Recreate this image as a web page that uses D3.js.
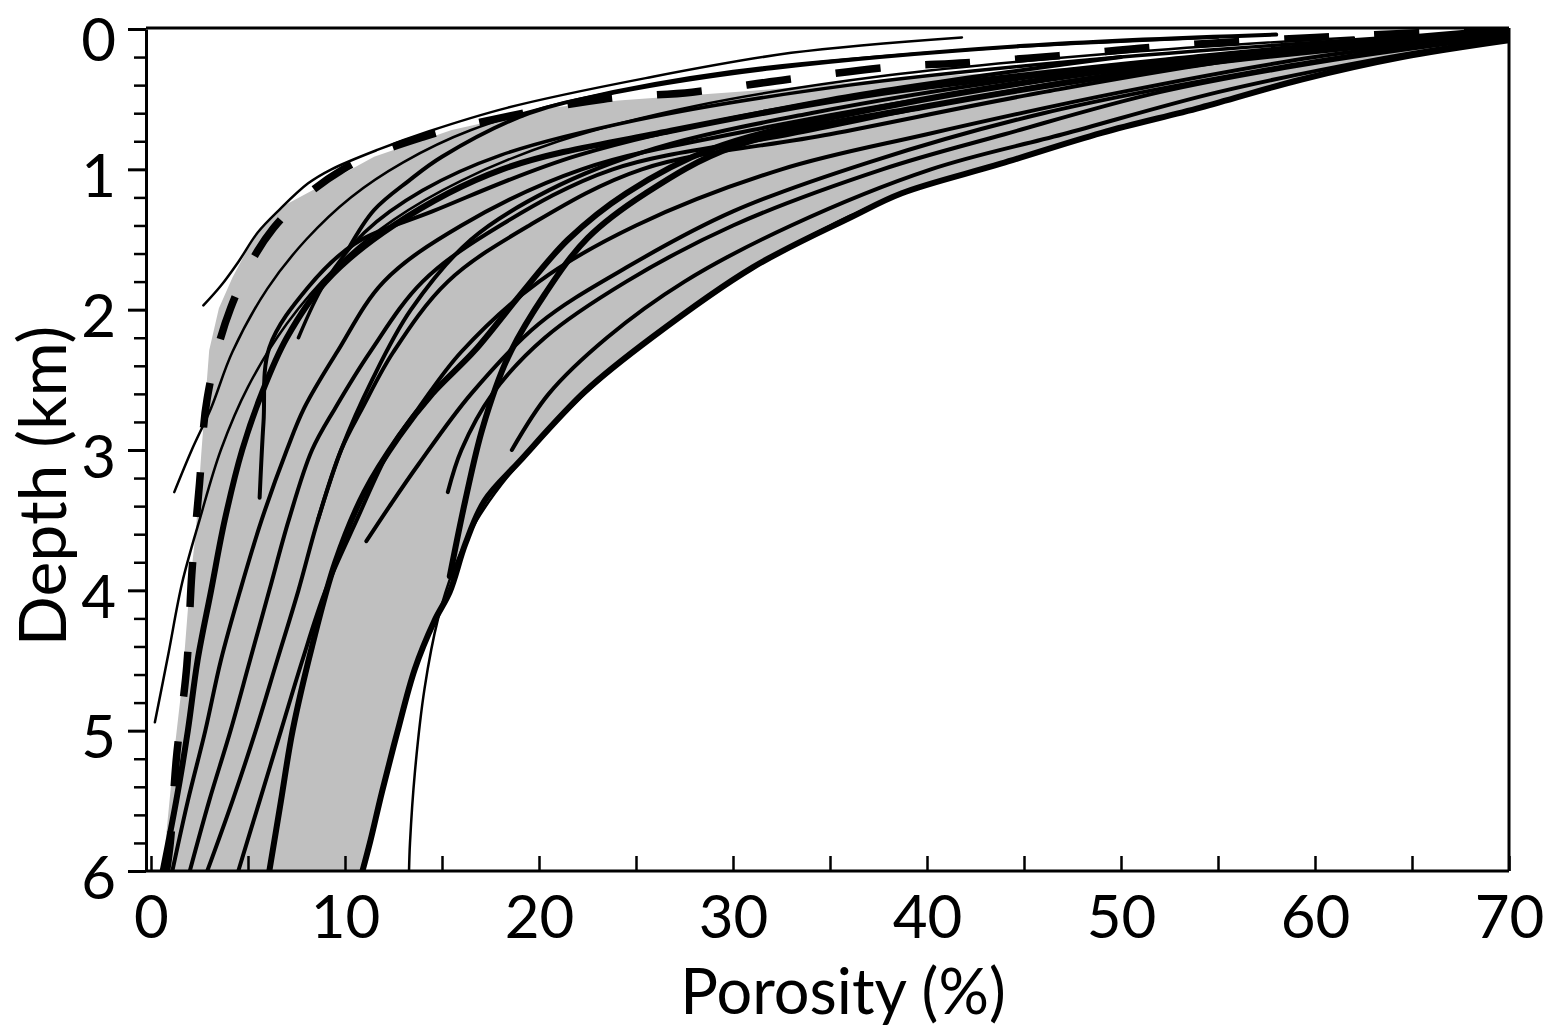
<!DOCTYPE html>
<html><head><meta charset="utf-8">
<script src="https://cdn.jsdelivr.net/npm/d3@7"></script>
<style>
body{margin:0;background:#fff;}
svg{display:block;}
text{font-family:Lato,sans-serif;fill:#000;}
</style></head><body>
<svg id="chart" width="1549" height="1029"></svg>
<script>
// ---- tick values / labels ----
const xTickValues = [0,5,10,15,20,25,30,35,40,45,50,55,60,65,70];
const xTickLabels = [0,10,20,30,40,50,60,70];
const yTickValues = [0,1,2,3,4,5,6];
const yMinorTicks = [0.2,0.4,0.6,0.8,1.2,1.4,1.6,1.8,2.2,2.4,2.6,2.8,3.2,3.4,3.6,3.8,4.2,4.4,4.6,4.8,5.2,5.4,5.6,5.8];
const xTitle = "Porosity (%)";
const yTitle = "Depth (km)";
const panelLabel = "(a)";

// ---- data: [porosity %, depth km] ----
const bandLeft = [[70,0],[64.5,0.11],[59.3,0.16],[54.1,0.21],[49,0.26],[43.8,0.31],[38.7,0.35],[31,0.44],[24.1,0.51],[20.7,0.56],[15.5,0.72],[11.5,0.91],[9,1.1],[6.7,1.27],[5.2,1.51],[4.2,1.77],[3.5,1.99],[3.0,2.29],[2.6,3.01],[2.3,3.6],[2.0,3.96],[1.6,4.67],[1.2,5.15],[0.8,5.72],[0.6,6.0]];
const curveEnvelope = [[70,0.08],[64.5,0.2],[59.3,0.36],[54.1,0.56],[49,0.74],[43.8,0.96],[38.7,1.17],[36.1,1.34],[31,1.7],[25.8,2.2],[22.4,2.58],[19,3.08],[17.2,3.36],[16.2,3.67],[15.4,4.01],[14.6,4.22],[13.6,4.56],[12.7,5.01],[11.9,5.44],[11.3,5.79],[10.9,6]];
const curveOuterThin = [[70,0.08],[64.5,0.2],[59.3,0.36],[54.1,0.56],[49,0.74],[43.8,0.96],[38.7,1.17],[31,1.7],[25.8,2.2],[22.2,2.62],[18.8,3.12],[16.8,3.5],[15.6,3.85],[14.8,4.2],[14.1,4.7],[13.6,5.3],[13.35,5.8],[13.3,6]];
const curveDashed = [[70,0],[60,0.06],[51.6,0.13],[46.8,0.19],[42,0.24],[38.2,0.27],[32.8,0.36],[27.9,0.45],[23.3,0.5],[18.5,0.62],[14,0.77],[9.9,1.0],[6.3,1.42],[4.1,1.99],[2.9,2.63],[2.5,3.24],[2.1,3.89],[1.85,4.53],[1.3,5.21],[1.0,5.79],[0.8,6.0]];
const curveL1 = [[41.8,0.06],[33,0.17],[25.5,0.35],[18.4,0.56],[14.3,0.73],[11.7,0.86],[9.3,1.0],[8.1,1.1],[6.6,1.29],[5.5,1.45],[4.5,1.66],[3.6,1.83],[2.7,1.97]];
const curveL2 = [[55,0.06],[42,0.15],[30,0.3],[22,0.5],[16.5,0.72],[13,0.95],[10.3,1.2],[8,1.5],[6,1.85],[4.2,2.3],[3.1,2.7],[2.1,3.0],[1.2,3.3]];
const curveL3 = [[62,0.06],[50,0.17],[38,0.33],[28,0.55],[21,0.8],[16,1.08],[12.5,1.36],[9.5,1.7],[7,2.1],[5,2.55],[3.6,3.0],[2.5,3.5],[1.6,3.95],[0.9,4.45],[0.2,4.94]];
const curveG1 = [[70,0.02],[57,0.3],[46,0.6],[37,0.95],[30,1.3],[24.5,1.7],[20,2.1],[16.5,2.6],[13.8,3.1],[12.3,3.4],[11.1,3.65]];
const curveG2 = [[50,0.2],[35,0.5],[22,0.9],[14.5,1.3],[10.5,1.53],[8.1,1.84],[6.1,2.27],[5.8,2.8],[5.6,3.34]];
const curveG3 = [[58,0.04],[45,0.12],[32,0.28],[24,0.45],[19.5,0.6],[15,0.91],[13.3,1.08],[11.5,1.29],[10.2,1.56]];
const curveF1 = [[70,0.02],[52,0.25],[38,0.55],[29,0.85],[24.5,1.17],[21.5,1.5],[19,1.9],[16.7,2.29],[14.5,2.6],[12.8,2.9],[11,3.3],[9.5,3.8],[8.3,4.4],[7.3,5],[6.7,5.5],[6.1,6]];
const curveX1 = [[70,0.03],[54,0.25],[40,0.55],[30,0.84],[25.5,1.17],[22.5,1.49],[20.3,1.89],[18.4,2.34],[17.1,2.84],[16.2,3.36],[15.4,3.9]];
const curveF2 = [[70,0.04],[60,0.2],[50,0.45],[40,0.75],[32.5,1.0],[25,1.4],[20,1.8],[16,2.3],[13.8,2.7],[12.3,3.0],[10.6,3.5],[9.0,4.0],[7.8,4.5],[6.7,5.0],[5.6,5.5],[4.5,6.0]];
const curveF3 = [[70,0.03],[57,0.2],[46,0.45],[35,0.75],[25.3,1.0],[19.5,1.4],[15.3,1.8],[12.5,2.3],[10.9,2.7],[9.8,3.0],[8.6,3.5],[7.6,4.0],[6.5,4.5],[5.4,5.0],[4.2,5.5],[2.9,6.0]];
const curveF4 = [[70,0.02],[56,0.2],[44,0.45],[33,0.75],[23.8,1.0],[18,1.4],[14,1.8],[11.3,2.3],[9.5,2.7],[8.3,3.0],[7.1,3.5],[6.1,4.0],[5.1,4.5],[4.1,5.0],[3.0,5.5],[2.0,6.0]];
const curveF5b = [[70,0.01],[55,0.2],[42,0.45],[31,0.72],[22.2,1.0],[16,1.4],[12,1.8],[9.6,2.3],[7.9,2.7],[7,3.0],[5.7,3.5],[4.6,4.0],[3.6,4.5],[2.8,5.0],[1.9,5.5],[1.1,6.0]];
const curveF5 = [[70,0],[54,0.2],[38,0.45],[27,0.72],[18.1,1.0],[12.5,1.4],[9,1.8],[7,2.2],[5.7,2.6],[4.7,3.0],[3.8,3.5],[3.1,4.0],[2.4,4.5],[1.9,5.0],[1.3,5.5],[0.6,6.0]];
const curveH = [[70,0.05],[61,0.22],[52,0.45],[44,0.75],[37.7,1.0],[30,1.4],[24.5,1.8],[20.3,2.2],[17.6,2.6],[16,3.0],[15.3,3.3]];
const curveK = [[70,0.06],[63,0.22],[55,0.45],[47,0.75],[40.2,1.0],[33,1.4],[27.5,1.8],[23.5,2.2],[20.5,2.6],[18.6,3.0]];
const curveM = [[65,0.05],[50,0.2],[36,0.4],[25,0.65],[18,0.9],[14,1.15],[11,1.45],[9,1.8],[7.6,2.2]];
const curveN = [[70,0],[58,0.15],[45,0.35],[34,0.6],[26,0.85],[20.5,1.15],[16.5,1.5],[13.4,2.0],[11.4,2.5],[9.8,3.0],[8.6,3.5]];

// ---- layout ----
const svg = d3.select("#chart");
const x = d3.scaleLinear().domain([0,70]).range([151,1509]);
const y = d3.scaleLinear().domain([0,6]).range([29,871]);
const axisX = 146;
const FONT = "Lato";

svg.append("defs").append("clipPath").attr("id","plotclip")
  .append("rect").attr("x",axisX).attr("y",y(0)).attr("width",x(70)-axisX).attr("height",y(6)-y(0));

const plot = svg.append("g").attr("clip-path","url(#plotclip)");

// gray band
const bandPoly = bandLeft.concat([[curveEnvelope[curveEnvelope.length-1][0],6]]).concat(curveEnvelope.slice().reverse()).concat([[70,0]]);
plot.append("path")
  .attr("d", d3.line().x(d=>x(d[0])).y(d=>y(d[1])).curve(d3.curveLinear)(bandPoly))
  .attr("fill","#c0c0c0").attr("stroke","none");

const lineGen = d3.line().x(d=>x(d[0])).y(d=>y(d[1])).curve(d3.curveCatmullRom.alpha(0.5));

const curves = [
  {d:curveOuterThin, w:2.5},
  {d:curveL1, w:2.5},{d:curveL2, w:2.5},{d:curveL3, w:2.5},
  {d:curveG1, w:4},{d:curveG2, w:4},{d:curveG3, w:4},
  {d:curveF2, w:4},{d:curveF3, w:4},{d:curveF4, w:4},{d:curveF5b, w:4},
  {d:curveH, w:4},{d:curveK, w:4},{d:curveM, w:3.5},{d:curveN, w:4},
  {d:curveF1, w:6},{d:curveX1, w:6},{d:curveF5, w:6},
  {d:curveEnvelope, w:6}
];
plot.selectAll("path.curve").data(curves).enter().append("path")
  .attr("class","curve")
  .attr("d", c=>lineGen(c.d))
  .attr("fill","none").attr("stroke","#000")
  .attr("stroke-width", c=>c.w).attr("stroke-linejoin","round").attr("stroke-linecap","round");

plot.append("path").attr("d", lineGen(curveDashed))
  .attr("fill","none").attr("stroke","#000").attr("stroke-width",7.5)
  .attr("stroke-dasharray","45,45");

// frame (top and right)
svg.append("line").attr("x1",axisX).attr("x2",x(70)).attr("y1",y(0)-1).attr("y2",y(0)-1)
  .attr("stroke","#000").attr("stroke-width",3);
svg.append("line").attr("x1",x(70)).attr("x2",x(70)).attr("y1",y(0)-1).attr("y2",y(6))
  .attr("stroke","#000").attr("stroke-width",3);

// left axis
const gy = svg.append("g").attr("transform",`translate(${axisX},0)`)
  .call(d3.axisLeft(y).tickValues(yTickValues).tickSize(18).tickSizeOuter(0).tickPadding(12).tickFormat(d3.format("d")));
gy.select(".domain").attr("stroke-width",3);
gy.selectAll(".tick line").attr("stroke-width",3);
gy.selectAll(".tick text").attr("font-size",60).attr("font-family",FONT)
  .attr("dy", d => d === 0 ? "0.52em" : "0.45em");
const gyMinor = svg.append("g").attr("transform",`translate(${axisX},0)`)
  .call(d3.axisLeft(y).tickValues(yMinorTicks).tickSize(12).tickFormat(""));
gyMinor.select(".domain").remove();
gyMinor.selectAll(".tick line").attr("stroke-width",2.5);

// bottom axis
const gx = svg.append("g").attr("transform",`translate(0,${y(6)})`)
  .call(d3.axisBottom(x).tickValues(xTickValues).tickSizeInner(-15).tickSizeOuter(0).tickPadding(24)
    .tickFormat(d => xTickLabels.includes(d) ? String(d) : ""));
gx.select(".domain").attr("stroke-width",3).attr("d",`M${axisX},0H${x(70)}`);
gx.selectAll(".tick line").attr("stroke-width",2.5);
gx.selectAll(".tick text").attr("font-size",60).attr("font-family",FONT);

// titles
svg.append("text").attr("x",843).attr("y",1014).attr("text-anchor","middle")
  .attr("font-size",63).attr("font-family",FONT).text(xTitle);
svg.append("text").attr("transform","translate(66,486) rotate(-90)").attr("text-anchor","middle")
  .attr("font-size",66).attr("font-family",FONT).text(yTitle);
svg.append("text").attr("x",14).attr("y",-10).attr("font-size",56).attr("font-family",FONT).text(panelLabel);
</script>
</body></html>
